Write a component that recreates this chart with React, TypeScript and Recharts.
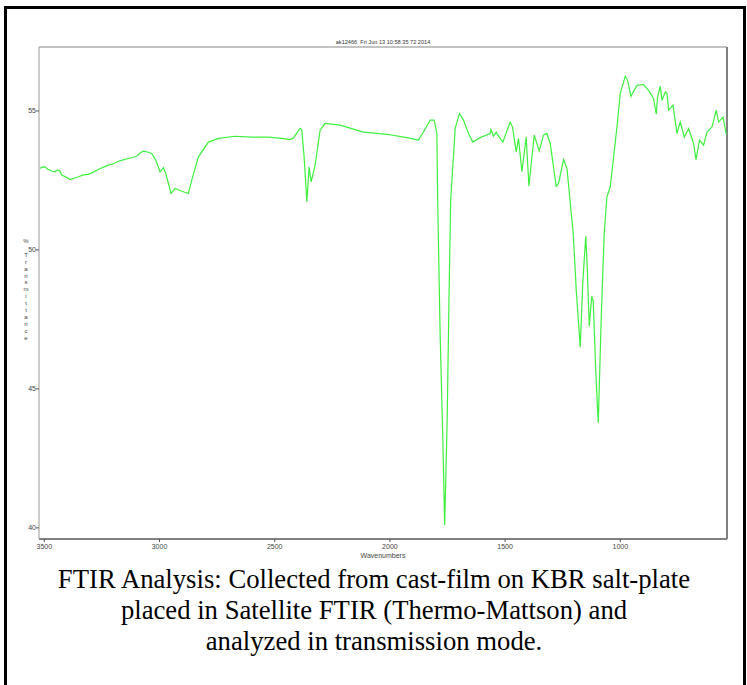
import React from 'react';
import { LineChart, Line, XAxis, YAxis, ReferenceLine } from 'recharts';

const wavenumbers = [
  3518.7, 3510.0, 3497.0, 3485.0, 3475.3, 3465.0, 3453.5, 3442.0, 3431.8, 3424.5, 3405.0, 3388.4, 3370.0, 3352.4, 3330.0, 3309.0, 3287.0, 3265.5,
  3243.0, 3222.1, 3200.0, 3178.7, 3157.0, 3135.3, 3106.2, 3095.0, 3084.5, 3070.0, 3055.4, 3033.7, 3016.3, 2997.6, 2983.3,
  2972.9, 2949.9, 2932.5, 2903.4, 2874.8, 2860.0, 2831.3, 2787.9, 2744.5, 2672.0,
  2599.5, 2527.4, 2469.2, 2433.2, 2420.1, 2389.8, 2382.4, 2372.4, 2360.6, 2350.7,
  2342.0, 2324.6, 2302.9, 2281.2, 2216.1, 2114.9, 2013.3, 1926.5, 1876.1, 1854.4,
  1825.3, 1807.9, 1796.2, 1792.7, 1781.9, 1771.0, 1762.3, 1751.5, 1743.7, 1736.3,
  1716.7, 1698.1, 1680.7, 1659.0, 1639.9, 1608.2, 1564.8, 1561.7, 1550.4, 1538.7,
  1521.3, 1509.6, 1477.9, 1467.9, 1451.9, 1441.9, 1427.1, 1408.5, 1396.7, 1373.7,
  1352.0, 1333.3, 1318.6, 1304.3, 1278.2, 1268.2, 1246.5, 1231.7, 1210.0, 1204.4,
  1191.3, 1174.0, 1163.1, 1150.1, 1143.6, 1134.9, 1124.0, 1117.5, 1106.7, 1095.8,
  1082.8, 1069.8, 1058.1, 1043.7, 1014.6, 1000.3, 978.6, 968.6, 953.9, 927.8,
  899.1, 877.4, 855.7, 844.0, 838.4, 826.6, 819.2, 804.9, 797.5, 790.6,
  771.5, 754.1, 739.8, 722.4, 703.7, 682.0, 671.6, 656.0, 638.6, 623.9,
  602.2, 583.5, 573.5, 554.4, 540.1,
];

const transmittance = [
  52.93, 52.98, 52.99, 52.90, 52.87, 52.82, 52.81, 52.88, 52.84, 52.69, 52.62, 52.53, 52.58, 52.63, 52.70, 52.72, 52.80, 52.89,
  52.98, 53.05, 53.10, 53.19, 53.24, 53.29, 53.35, 53.40, 53.49, 53.55, 53.53, 53.47, 53.23, 52.81, 52.96,
  52.75, 52.03, 52.21, 52.11, 52.03, 52.51, 53.35, 53.88, 54.01, 54.09,
  54.06, 54.06, 54.01, 53.97, 54.02, 54.37, 54.31, 53.35, 51.73, 52.99,
  52.45, 53.05, 54.31, 54.55, 54.49, 54.24, 54.16, 54.04, 53.95, 54.24,
  54.67, 54.67, 54.19, 51.79, 46.93, 43.41, 40.10, 43.87, 48.19, 51.79,
  54.37, 54.91, 54.67, 54.19, 53.88, 54.04, 54.19, 54.33, 54.09, 54.24,
  54.01, 53.88, 54.60, 54.42, 53.53, 54.01, 52.81, 54.06, 52.29, 54.13,
  53.56, 54.13, 54.19, 53.83, 52.29, 52.39, 53.25, 52.94, 51.07, 50.60,
  48.55, 46.50, 48.80, 50.49, 49.38, 47.26, 48.33, 48.15, 45.67, 43.77,
  47.58, 50.60, 51.91, 52.27, 54.42, 55.63, 56.25, 56.10, 55.53, 55.92,
  55.95, 55.74, 55.45, 54.88, 55.50, 55.89, 55.38, 55.68, 55.63, 55.03,
  55.21, 54.19, 54.60, 54.06, 54.37, 53.83, 53.25, 53.95, 53.77, 54.24,
  54.42, 55.03, 54.60, 54.78, 54.16,
];

const xTicks = [3500, 3000, 2500, 2000, 1500, 1000];
const yTicks = [40, 45, 50, 55];
const xDomain = [537, 3523];
const yDomain = [39.6, 57.3];

const titleText = 'ak12466  Fri Jun 13 10:58:35 72 2014';
const xLabel = 'Wavenumbers';
const yLabelLetters = ['%', '\u00a0', 'T', 'r', 'a', 'n', 's', 'm', 'i', 't', 't', 'a', 'n', 'c', 'e'];
const captionLines = [
  'FTIR Analysis: Collected from cast-film on KBR salt-plate',
  'placed in Satellite FTIR (Thermo-Mattson) and',
  'analyzed in transmission mode.',
];

const data = wavenumbers.map((w, i) => ({ w, t: transmittance[i] }));

const fontSans = 'Arial, "Liberation Sans", sans-serif';
const tickStyle = { fontSize: 7, fill: '#444', fontFamily: fontSans };

export default function App() {
  return (
    <div style={{ position: 'absolute', left: 0, top: 0, width: 747, height: 685, overflow: 'hidden', background: '#fff' }}>
      <div
        style={{
          position: 'absolute',
          left: 4,
          top: 6,
          width: 742,
          height: 720,
          boxSizing: 'border-box',
          border: '3px solid #000',
        }}
      />
      <div style={{ position: 'absolute', left: 0, top: 0 }}>
        <LineChart width={747} height={570} data={data} margin={{ top: 47, right: 20, bottom: 0, left: 0 }}>
          <XAxis
            dataKey="w"
            type="number"
            domain={xDomain}
            reversed
            ticks={xTicks}
            allowDataOverflow
            height={31}
            tickSize={3}
            tickMargin={2}
            tick={tickStyle}
            tickLine={{ stroke: '#555' }}
            axisLine={{ stroke: '#808080', strokeWidth: 2 }}
            label={{ value: xLabel, position: 'insideBottom', offset: 12, style: { fontSize: 7, fill: '#444', fontFamily: fontSans } }}
          />
          <YAxis
            type="number"
            domain={yDomain}
            ticks={yTicks}
            allowDataOverflow
            width={39}
            tickSize={3}
            tickMargin={0}
            tick={tickStyle}
            tickLine={{ stroke: '#555' }}
            axisLine={{ stroke: '#999', strokeWidth: 1 }}
          />
          <ReferenceLine y={yDomain[1]} stroke="#888" strokeWidth={1.2} />
          <ReferenceLine x={xDomain[0]} stroke="#808080" strokeWidth={2} />
          <Line
            type="linear"
            dataKey="t"
            stroke="#3ef03e"
            strokeWidth={1.2}
            dot={false}
            isAnimationActive={false}
          />
        </LineChart>
      </div>
      <div
        style={{
          position: 'absolute',
          left: 283,
          top: 39,
          width: 200,
          textAlign: 'center',
          fontSize: 5.6,
          lineHeight: '6px',
          color: '#333',
          fontFamily: fontSans,
          whiteSpace: 'pre',
        }}
      >
        {titleText}
      </div>
      <div
        style={{
          position: 'absolute',
          left: 21,
          top: 238,
          width: 10,
          textAlign: 'center',
          fontSize: 6,
          lineHeight: '6.9px',
          color: '#444',
          fontFamily: fontSans,
        }}
      >
        {yLabelLetters.map((c, i) => (
          <div key={i}>{c}</div>
        ))}
      </div>
      <div
        style={{
          position: 'absolute',
          left: 0,
          top: 563.5,
          width: 748,
          textAlign: 'center',
          fontSize: 26.7,
          lineHeight: '31px',
          color: '#000',
          fontFamily: '"Times New Roman", "Liberation Serif", serif',
        }}
      >
        {captionLines.map((l, i) => (
          <div key={i}>{l}</div>
        ))}
      </div>
    </div>
  );
}
